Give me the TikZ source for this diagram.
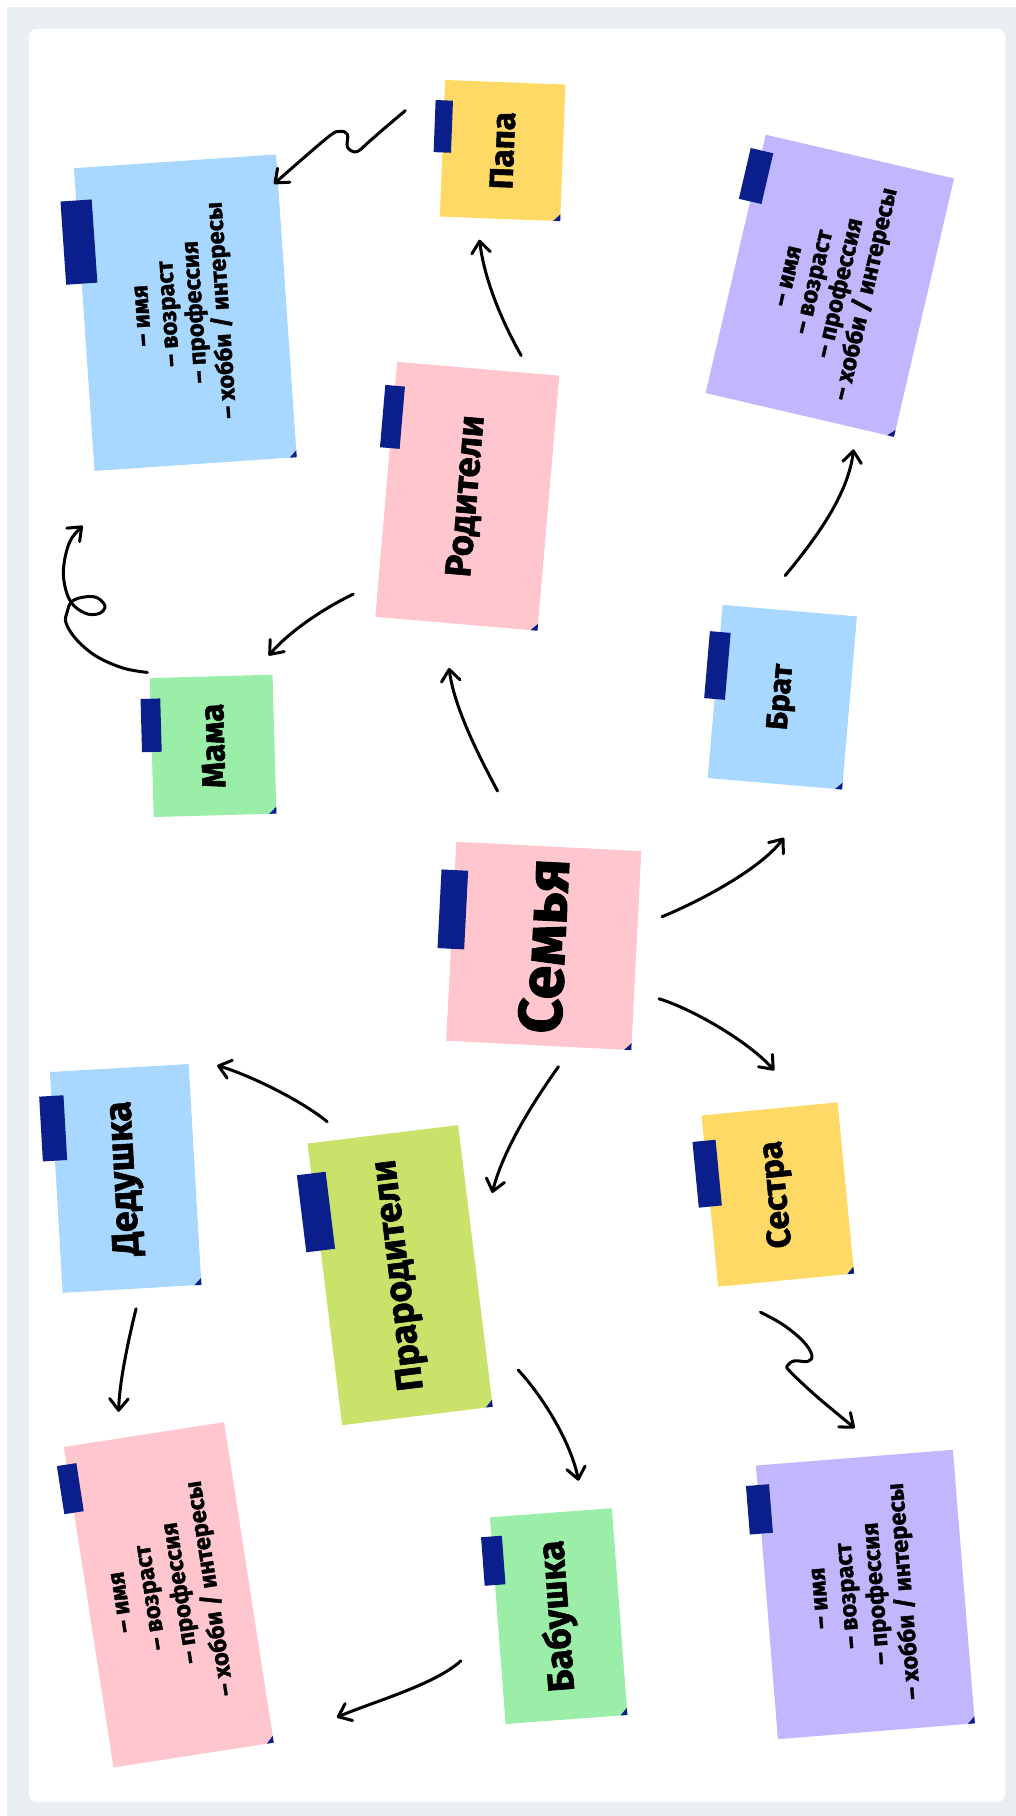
\documentclass[tikz,border=0pt]{standalone}
\usepackage{fontspec}
\setmainfont{Fira Sans}[BoldFeatures={FakeBold=1.6}]
\usetikzlibrary{arrows.meta,calc}
\definecolor{cbg}{HTML}{E9EEF2}
\definecolor{cblue}{HTML}{A8D8FF}
\definecolor{cyellow}{HTML}{FFD966}
\definecolor{cpurple}{HTML}{C1B7FF}
\definecolor{cpink}{HTML}{FFC6CE}
\definecolor{cgreen}{HTML}{9AEEA8}
\definecolor{clime}{HTML}{C9E269}
\definecolor{ctape}{HTML}{0A1E8C}
\newcommand\notedecor[5]{%
  \node[tapebox, rotate=#2, minimum width=#4, minimum height=#5] (#1tape) at ($(#1.north east)!#3!(#1.north west)$) {};
  \fill[ctape] (#1.south west) -- ($(#1.south west)!6pt!(#1.south east)$) -- ($(#1.south west)!6pt!(#1.north west)$) -- cycle;
}
\newcommand\infotext{– имя\\– возраст\\– профессия\\– хобби / интересы}
\begin{document}
\begin{tikzpicture}[x=1pt,y=-1pt,
  note/.style={inner sep=0pt, outer sep=0pt, align=center},
  tapebox/.style={fill=ctape, inner sep=0pt, outer sep=0pt},
  arr/.style={line width=2.6pt, line cap=round, line join=round, -{Straight Barb[length=10pt,width=16pt,round]}},
  title/.style={font=\bfseries\fontsize{#1}{#1}\selectfont},
  info/.style={font=\bfseries\fontsize{20.5}{#1}\selectfont}
]
\path[use as bounding box] (0,0) rectangle (877,1568);
\fill[white] (0,0) rectangle (877,1568);
\fill[cbg] (6,6) rectangle (877,1568);
\fill[white, rounded corners=7pt] (25,25) rectangle (868,1556);

% notes
\node[note, info=23, fill=cblue, rotate=93.9, minimum width=262, minimum height=175] (nA) at (160,270) {\infotext};
\node[note, title=28.5, fill=cyellow, rotate=87.8, minimum width=118, minimum height=104] (nB) at (434,130) {Папа};
\node[note, info=23, fill=cpurple, rotate=76.9, minimum width=229, minimum height=167] (nC) at (716.5,246.75) {\infotext};
\node[note, title=31.5, fill=cpink, rotate=85.1, minimum width=221, minimum height=140.5] (nD) at (403.5,428.5) {Родители};
\node[note, title=28.5, fill=cgreen, rotate=91.6, minimum width=120, minimum height=106] (nE) at (184,644) {Мама};
\node[note, title=26, fill=cblue, rotate=85.1, minimum width=150, minimum height=116.4] (nF) at (675.5,602) {Брат};
\node[note, title=53, fill=cpink, rotate=87.1, minimum width=172, minimum height=160] (nG) at (469.5,816.75) {Семья};
\node[note, title=32, fill=clime, rotate=97, minimum width=245, minimum height=131] (nH) at (345.5,1101) {Прародители};
\node[note, title=32.5, fill=cblue, rotate=93.3, minimum width=191, minimum height=120] (nI) at (108.5,1017.5) {Дедушка};
\node[note, title=29, fill=cyellow, rotate=95.5, minimum width=148.5, minimum height=118] (nJ) at (671.6,1031.4) {Сестра};
\node[note, info=26, fill=cpink, rotate=98.8, minimum width=280, minimum height=140] (nK) at (145.75,1377) {\infotext};
\node[note, title=32, fill=cgreen, rotate=94.3, minimum width=179, minimum height=105.5] (nL) at (482.4,1395.4) {Бабушка};
\node[note, info=24.5, fill=cpurple, rotate=94.6, minimum width=237, minimum height=170.6] (nM) at (747.2,1376.7) {\infotext};

\notedecor{nA}{93.9}{0.244}{72}{27}
\notedecor{nB}{87.8}{0.34}{45}{15}
\notedecor{nC}{76.9}{0.16}{45}{20}
\notedecor{nD}{85.1}{0.216}{54}{17}
\notedecor{nE}{91.6}{0.34}{46}{17}
\notedecor{nF}{85.1}{0.35}{58}{18}
\notedecor{nG}{87.1}{0.34}{68}{23}
\notedecor{nH}{97}{0.243}{67}{25}
\notedecor{nI}{93.3}{0.255}{56}{21}
\notedecor{nJ}{95.5}{0.34}{57}{20}
\notedecor{nK}{98.8}{0.13}{42}{17}
\notedecor{nL}{94.3}{0.21}{42}{18}
\notedecor{nM}{94.6}{0.16}{42}{20}

% connector end points
\coordinate (a1s) at (350,95.5);   \coordinate (a1e) at (236.5,158.8);
\coordinate (a2s) at (450,307);    \coordinate (a2e) at (414,207);
\coordinate (a3s) at (678,497);    \coordinate (a3e) at (737,388);
\coordinate (a4s) at (305,513);    \coordinate (a4e) at (232,566);
\coordinate (a5s) at (127.2,580.6);\coordinate (a5e) at (71.4,454);
\coordinate (a6s) at (429.6,683);  \coordinate (a6e) at (387.7,576.7);
\coordinate (a7s) at (571.6,791.5);\coordinate (a7e) at (676.9,723.4);
\coordinate (a8s) at (569,862.4);  \coordinate (a8e) at (668.5,924.2);
\coordinate (a9s) at (482.2,921);  \coordinate (a9e) at (425,1030);
\coordinate (a10s) at (282.5,968.5); \coordinate (a10e) at (187.5,920);
\coordinate (a11s) at (117.5,1130);  \coordinate (a11e) at (102.4,1219);
\coordinate (a12s) at (447.5,1183);  \coordinate (a12e) at (499.5,1278.5);
\coordinate (a13s) at (398,1434);    \coordinate (a13e) at (290.9,1482.8);
\coordinate (a14s) at (656.6,1133);  \coordinate (a14e) at (738,1233);

\draw[arr] plot[smooth, tension=0.6] coordinates {(a1s) (334,109) (319,122) (308,131) (300,127) (300,116) (293,113.5) (282,119.4) (a1e)};
\draw[arr] (a2s) .. controls (432,275) and (418,240) .. (a2e);
\draw[arr] (a3s) .. controls (700,470) and (732,430) .. (a3e);
\draw[arr] (a4s) .. controls (280,525) and (250,545) .. (a4e);
\draw[arr] plot[smooth, tension=0.6] coordinates {(a5s) (106.5,576.9) (83.4,566.8) (66.2,552.4) (57,538) (58.1,528) (61.9,519.4) (71.9,515.6) (83.4,515.9) (90.6,523.1) (86.3,529.4) (76.2,530.3) (66.2,525.1) (59.8,517.3) (56.1,506.4) (54.7,493.5) (57,477.6) (61.9,464.7) (a5e)};
\draw[arr] (a6s) .. controls (412,650) and (392,610) .. (a6e);
\draw[arr] (a7s) .. controls (600,780) and (655,752) .. (a7e);
\draw[arr] (a8s) .. controls (595,870) and (645,898) .. (a8e);
\draw[arr] (a9s) .. controls (465,945) and (435,990) .. (a9e);
\draw[arr] (a10s) .. controls (260,950) and (215,928) .. (a10e);
\draw[arr] (a11s) .. controls (110,1160) and (103,1195) .. (a11e);
\draw[arr] (a12s) .. controls (468,1205) and (493,1245) .. (a12e);
\draw[arr] (a13s) .. controls (375,1455) and (320,1470) .. (a13e);
\draw[arr] plot[smooth, tension=0.6] coordinates {(a14s) (676,1143.7) (693.4,1158) (701,1170) (697.5,1175.5) (686,1175) (680,1179) (682,1184) (705,1205.6) (a14e)};
\end{tikzpicture}
\end{document}
